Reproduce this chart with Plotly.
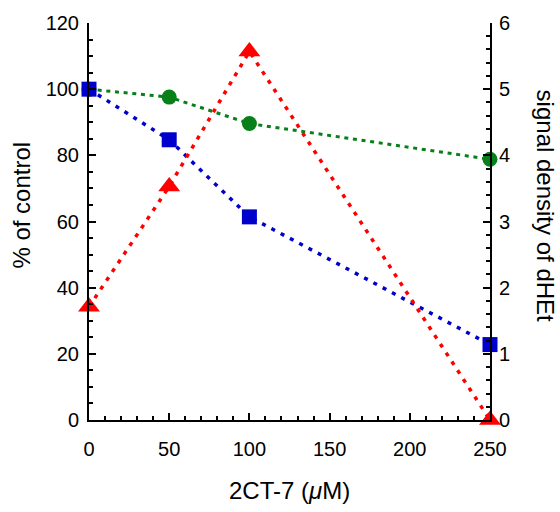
import plotly.graph_objects as go

# concentrations of 2CT-7 (µM)
conc = [0, 50, 100, 250]
# % of control (left axis)
pct_blue = [100, 84.7, 61.4, 22.8]
pct_green = [100, 97.6, 89.6, 78.8]
# signal density of dHEt (right axis)
dhet = [1.71, 3.53, 5.57, 0]

FONT = "Liberation Sans, Arial, Helvetica, sans-serif"
TITLE_SIZE = 24

fig = go.Figure()
fig.add_trace(go.Scatter(
    x=conc, y=pct_green, mode="lines+markers", cliponaxis=False,
    line=dict(color="#07801a", width=3, dash="4px,4.7px"),
    marker=dict(symbol="circle", size=15, color="#07801a"),
))
fig.add_trace(go.Scatter(
    x=conc, y=pct_blue, mode="lines+markers", cliponaxis=False,
    line=dict(color="#0000cc", width=3.5, dash="4px,6.5px"),
    marker=dict(symbol="square", size=15, color="#0000cc"),
))
fig.add_trace(go.Scatter(
    x=conc, y=dhet, mode="lines+markers", yaxis="y2", cliponaxis=False,
    line=dict(color="#ff0000", width=3.5, dash="4px,6.5px"),
    marker=dict(symbol="triangle-up", size=19, color="#ff0000"),
))

axis_common = dict(
    showline=True, linecolor="black", linewidth=2,
    ticks="inside", ticklen=7, tickwidth=2, tickcolor="black",
    showgrid=False, zeroline=False,
    tickfont=dict(family=FONT, size=20, color="black"),
)

fig.update_layout(
    width=560, height=512,
    margin=dict(l=89, r=70, t=16, b=92),
    paper_bgcolor="white", plot_bgcolor="white",
    showlegend=False,
    font=dict(family=FONT, color="black"),
    xaxis=dict(
        range=[0, 250], tickvals=[0, 50, 100, 150, 200, 250],
        minor=dict(dtick=10, ticks="inside", ticklen=4, tickwidth=2, tickcolor="black"),
        ticklabelstandoff=10,
        **axis_common,
    ),
    yaxis=dict(
        range=[0, 120], tickvals=[0, 20, 40, 60, 80, 100, 120],
        minor=dict(dtick=5, ticks="inside", ticklen=4, tickwidth=2, tickcolor="black"),
        ticklabelstandoff=4,
        **axis_common,
    ),
    yaxis2=dict(
        range=[0, 6], tickvals=[0, 1, 2, 3, 4, 5, 6],
        overlaying="y", side="right",
        minor=dict(dtick=0.2, ticks="inside", ticklen=4, tickwidth=2, tickcolor="black"),
        ticklabelstandoff=3,
        **axis_common,
    ),
    annotations=[
        dict(text="2CT-7 (<i>μ</i>M)", xref="paper", yref="paper",
             x=0.5, y=0, yshift=-70, xanchor="center", yanchor="middle",
             showarrow=False, font=dict(family=FONT, size=TITLE_SIZE, color="black")),
        dict(text="% of control", textangle=-90, xref="paper", yref="paper",
             x=0, y=0.54, xshift=-67, xanchor="center", yanchor="middle",
             showarrow=False, font=dict(family=FONT, size=TITLE_SIZE, color="black")),
        dict(text="signal density of dHEt", textangle=90, xref="paper", yref="paper",
             x=1, y=0.54, xshift=55, xanchor="center", yanchor="middle",
             showarrow=False, font=dict(family=FONT, size=TITLE_SIZE, color="black")),
    ],
)

fig.write_html("out.html")
